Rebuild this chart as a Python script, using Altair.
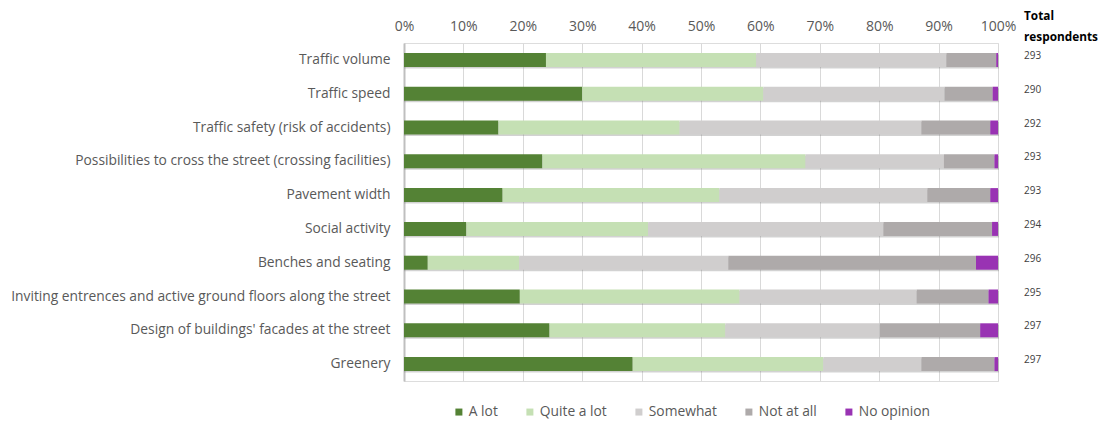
import altair as alt
import pandas as pd

items = [
    "Traffic volume",
    "Traffic speed",
    "Traffic safety (risk of accidents)",
    "Possibilities to cross the street (crossing facilities)",
    "Pavement width",
    "Social activity",
    "Benches and seating",
    "Inviting entrences and active ground floors along the street",
    "Design of buildings' facades at the street",
    "Greenery",
]
responses = ["A lot", "Quite a lot", "Somewhat", "Not at all", "No opinion"]
colors = ["#548235", "#C5E0B4", "#D0CECE", "#AEAAAA", "#9933B3"]

a_lot = [23.9, 30.0, 15.9, 23.3, 16.6, 10.5, 4.0, 19.5, 24.5, 38.5]
quite_a_lot = [35.4, 30.5, 30.5, 44.3, 36.5, 30.6, 15.4, 37.0, 29.6, 32.1]
somewhat = [32.0, 30.5, 40.7, 23.3, 35.0, 39.6, 35.2, 29.8, 26.0, 16.5]
not_at_all = [8.4, 8.1, 11.6, 8.5, 10.6, 18.3, 41.7, 12.1, 16.9, 12.3]
no_opinion = [0.3, 0.9, 1.3, 0.6, 1.3, 1.0, 3.7, 1.6, 3.0, 0.6]
totals = [293, 290, 292, 293, 293, 294, 296, 295, 297, 297]

series = [a_lot, quite_a_lot, somewhat, not_at_all, no_opinion]
rows = []
for ri, resp in enumerate(responses):
    for ii, item in enumerate(items):
        rows.append({"item": item, "response": resp, "idx": ri, "value": series[ri][ii]})
df = pd.DataFrame(rows)
tot_df = pd.DataFrame({"item": items, "total": totals})

FONT = "Open Sans"
TXT = "#595959"

y_enc = alt.Y(
    "item:N",
    sort=items,
    scale=alt.Scale(paddingInner=0.0, paddingOuter=0.0),
    axis=alt.Axis(
        title=None,
        labelFontSize=13.8,
        labelColor=TXT,
        labelPadding=14,
        ticks=False,
        domain=True,
        domainColor="#BFBFBF",
        domainWidth=2,
        labelLimit=500,
    ),
)

shadow = alt.Chart(df).mark_bar(size=14, color="#7F7F7F", opacity=0.35, yOffset=1.5, xOffset=1).encode(
    y=y_enc,
    x=alt.X("sum(value):Q", scale=alt.Scale(domain=[0, 100]), stack=None),
)

bars = alt.Chart(df).mark_bar(size=14).encode(
    y=y_enc,
    x=alt.X(
        "value:Q",
        stack="zero",
        scale=alt.Scale(domain=[0, 100], nice=False),
        axis=alt.Axis(
            title=None,
            orient="top",
            values=list(range(0, 101, 10)),
            labelExpr="datum.value + '%'",
            labelFontSize=14,
            labelColor=TXT,
            labelPadding=10,
            labelFlush=False,
            labelOverlap=False,
            ticks=False,
            domain=False,
            grid=True,
            gridColor="#D9D9D9",
            gridWidth=1,
        ),
    ),
    color=alt.Color(
        "response:N",
        scale=alt.Scale(domain=responses, range=colors),
        legend=alt.Legend(
            title=None,
            orient="none",
            legendX=48,
            legendY=362,
            direction="horizontal",
            symbolType="square",
            symbolSize=49,
            symbolStrokeWidth=0,
            labelFontSize=13.8,
            labelColor=TXT,
            labelOffset=3,
            columnPadding=25,
        ),
    ),
    order=alt.Order("idx:Q"),
)

nums = alt.Chart(tot_df).mark_text(align="left", baseline="middle", dy=-4, fontSize=10, color="#404040", font=FONT).encode(
    y=alt.Y("item:N", sort=items),
    x=alt.value(620),
    text="total:Q",
)

header = alt.Chart(pd.DataFrame({"a": [0]})).mark_text(
    text=["Total", "respondents"],
    align="left",
    baseline="alphabetic",
    fontSize=11.8,
    fontWeight="bold",
    lineHeight=21,
    color="#000000",
    font=FONT,
).encode(x=alt.value(620), y=alt.value(-23))

chart = (
    alt.layer(shadow, bars, nums, header)
    .properties(
        width=594,
        height=338,
        autosize=alt.AutoSizeParams(type="none"),
        padding={"left": 404, "top": 43, "right": 103, "bottom": 40},
    )
    .configure_view(stroke=None)
    .configure(font=FONT)
)

chart.save("out.html", embed_options={"renderer": "svg", "actions": False})
